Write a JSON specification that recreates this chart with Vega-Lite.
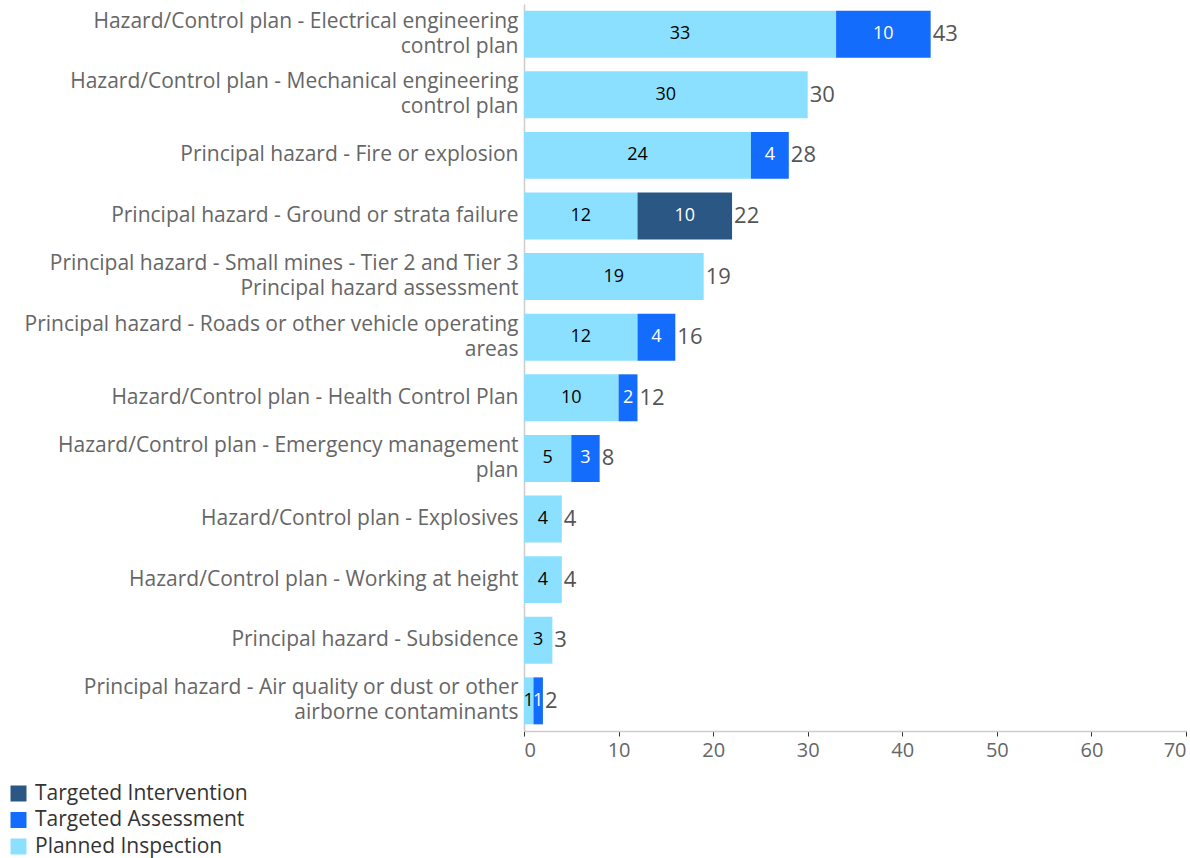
{
  "$schema": "https://vega.github.io/schema/vega-lite/v6.json",
  "width": 662,
  "height": 727,
  "autosize": "none",
  "padding": {"left": 524, "top": 4, "right": 4, "bottom": 127},
  "background": "white",
  "config": {
    "font": "Open Sans",
    "view": {"stroke": null},
    "axis": {"labelFont": "Open Sans", "labelColor": "#666666", "labelFontSize": 21, "grid": false}
  },
  "data": {
    "values": [
      {"category": "Hazard/Control plan - Electrical engineering|control plan", "type": "Planned Inspection", "value": 33},
      {"category": "Hazard/Control plan - Electrical engineering|control plan", "type": "Targeted Assessment", "value": 10},
      {"category": "Hazard/Control plan - Mechanical engineering|control plan", "type": "Planned Inspection", "value": 30},
      {"category": "Principal hazard - Fire or explosion", "type": "Planned Inspection", "value": 24},
      {"category": "Principal hazard - Fire or explosion", "type": "Targeted Assessment", "value": 4},
      {"category": "Principal hazard - Ground or strata failure", "type": "Planned Inspection", "value": 12},
      {"category": "Principal hazard - Ground or strata failure", "type": "Targeted Intervention", "value": 10},
      {"category": "Principal hazard - Small mines - Tier 2 and Tier 3|Principal hazard assessment", "type": "Planned Inspection", "value": 19},
      {"category": "Principal hazard - Roads or other vehicle operating|areas", "type": "Planned Inspection", "value": 12},
      {"category": "Principal hazard - Roads or other vehicle operating|areas", "type": "Targeted Assessment", "value": 4},
      {"category": "Hazard/Control plan - Health Control Plan", "type": "Planned Inspection", "value": 10},
      {"category": "Hazard/Control plan - Health Control Plan", "type": "Targeted Assessment", "value": 2},
      {"category": "Hazard/Control plan - Emergency management|plan", "type": "Planned Inspection", "value": 5},
      {"category": "Hazard/Control plan - Emergency management|plan", "type": "Targeted Assessment", "value": 3},
      {"category": "Hazard/Control plan - Explosives", "type": "Planned Inspection", "value": 4},
      {"category": "Hazard/Control plan - Working at height", "type": "Planned Inspection", "value": 4},
      {"category": "Principal hazard - Subsidence", "type": "Planned Inspection", "value": 3},
      {"category": "Principal hazard - Air quality or dust or other|airborne contaminants", "type": "Planned Inspection", "value": 1},
      {"category": "Principal hazard - Air quality or dust or other|airborne contaminants", "type": "Targeted Assessment", "value": 1}
    ]
  },
  "transform": [
    {"stack": "value", "groupby": ["category"], "sort": [{"field": "type", "order": "ascending"}], "as": ["x0", "x1"]},
    {"calculate": "(datum.x0 + datum.x1) / 2", "as": "xmid"}
  ],
  "encoding": {
    "y": {
      "field": "category",
      "type": "nominal",
      "sort": null,
      "scale": {"paddingInner": 0.225, "paddingOuter": 0.11},
      "axis": {
        "title": null,
        "labelExpr": "split(datum.label, '|')",
        "labelLineHeight": 25,
        "labelLimit": 600,
        "labelOffset": {"condition": {"test": "indexof(datum.label, '|') >= 0", "value": -12.5}, "value": 0},
        "ticks": false,
        "labelPadding": 6,
        "domain": true,
        "domainColor": "#cccccc",
        "domainWidth": 1.5
      }
    }
  },
  "layer": [
    {
      "mark": {"type": "bar"},
      "encoding": {
        "x": {
          "field": "x0",
          "type": "quantitative",
          "scale": {"domain": [0, 70], "nice": false},
          "axis": {
            "title": null,
            "values": [0, 10, 20, 30, 40, 50, 60, 70],
            "labelFlush": true,
            "labelFontSize": 20,
            "domainColor": "#cccccc",
            "domainWidth": 1.5,
            "tickColor": "#333333",
            "tickSize": 5,
            "labelPadding": 4
          }
        },
        "x2": {"field": "x1"},
        "color": {
          "field": "type",
          "type": "nominal",
          "scale": {
            "domain": ["Targeted Intervention", "Targeted Assessment", "Planned Inspection"],
            "range": ["#2a5783", "#146cfd", "#8ce0ff"]
          },
          "legend": {
            "title": null,
            "orient": "none",
            "legendX": -516,
            "legendY": 779,
            "symbolType": "square",
            "symbolSize": 256,
            "symbolStrokeWidth": 0,
            "symbolOpacity": 1,
            "labelFont": "Open Sans",
            "labelFontSize": 21,
            "labelLimit": 400,
            "labelColor": "#333333",
            "labelOffset": 6,
            "rowPadding": 4.5
          }
        }
      }
    },
    {
      "mark": {"type": "text", "fontSize": 18, "baseline": "middle", "align": "center"},
      "encoding": {
        "x": {"field": "xmid", "type": "quantitative"},
        "text": {"field": "value", "type": "quantitative"},
        "color": {
          "condition": {"test": "datum.type === 'Planned Inspection'", "value": "#000000"},
          "value": "#ffffff"
        }
      }
    },
    {
      "transform": [{"aggregate": [{"op": "sum", "field": "value", "as": "total"}], "groupby": ["category"]}],
      "mark": {"type": "text", "fontSize": 22, "baseline": "middle", "align": "left", "dx": 2, "color": "#555555"},
      "encoding": {
        "x": {"field": "total", "type": "quantitative"},
        "text": {"field": "total", "type": "quantitative"}
      }
    }
  ]
}
